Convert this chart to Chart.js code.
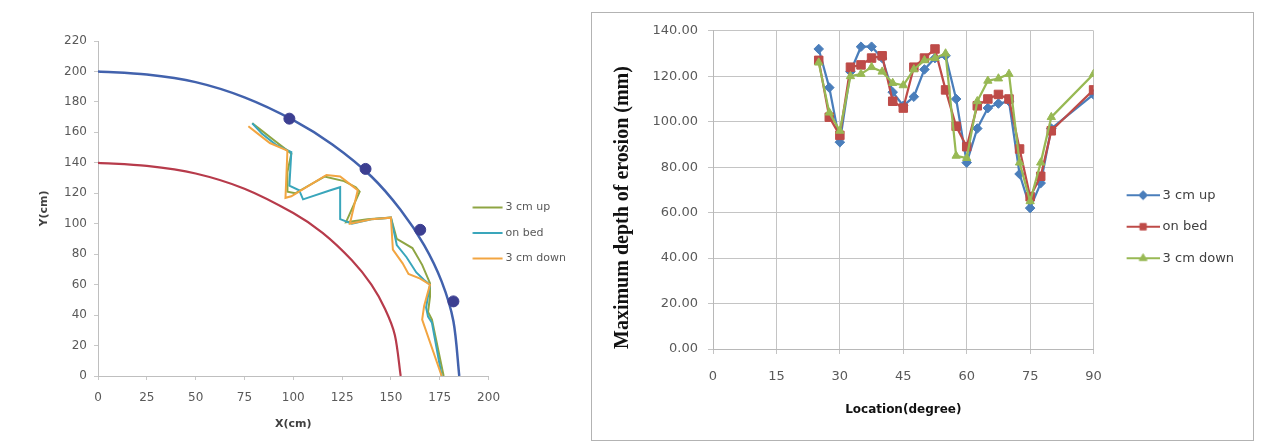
<!DOCTYPE html>
<html>
<head>
<meta charset="utf-8">
<script src="https://cdn.jsdelivr.net/npm/chart.js@4.4.0/dist/chart.umd.min.js"></script>
<style>
  body { margin: 0; background: #fff; width: 1264px; height: 444px; overflow: hidden; position: relative; }
  #left { position: absolute; left: 0; top: 0; }
  #frame { position: absolute; left: 591px; top: 12px; width: 663px; height: 429px; border: 1px solid #b3b3b3; box-sizing: border-box; }
  #right { position: absolute; left: 592px; top: 13px; }
</style>
</head>
<body>
<canvas id="left" width="619" height="444"></canvas>
<div id="frame"></div>
<canvas id="right" width="660" height="426"></canvas>
<script>
// ---- left chart: scour outline around the bend (cm) ----
const upPath = [[79,166],[84,161],[90,155],[96,149],[99,146],[97,134],[97,121],[101,120],[116,131],[126,128],[132,124],[134,121],[127,101],[138,103],[150,104],[153,90],[161,84],[166,73],[170,61],[170,52],[169,42],[171,37],[177,0]];
const bedPath = [[79,166],[84,159],[91,152],[99,147],[98,125],[103,122],[105,116],[119,122],[124,124],[124,103],[130,100],[140,103],[150,104],[153,86],[158,78],[163,68],[167,63],[170,60],[168,45],[169,39],[171,35],[176,0]];
const downPath = [[77,164],[81,160],[88,153],[97,148],[96,117],[99,118],[117,132],[124,131],[130,125],[133,122],[129,100],[140,103],[150,104],[151,83],[156,74],[159,67],[165,64],[170,60],[167,46],[166,37],[176,0]];
const outerWall = [[0,200],[25,198],[50,193],[75,183],[100,168],[120,152],[140,131],[155,109],[167,86],[176,62],[182,36],[185,0]];
const innerWall = [[0,140],[25,138],[50,133],[75,123],[100,107],[115,94],[130,76],[140,60],[147,44],[152,27],[155,0]];
const wallMarks = [[98,169],[137,136],[165,96],[182,49]];

// ---- right chart: maximum depth of erosion (mm) ----
const locations = [25,27.5,30,32.5,35,37.5,40,42.5,45,47.5,50,52.5,55,57.5,60,62.5,65,67.5,70,72.5,75,77.5,80,90];
const depthUp   = [132,115,91,122,133,133,128,113,107,111,123,128,129,110,82,97,106,108,109,77,62,73,97,112];
const depthBed  = [127,102,94,124,125,128,129,109,106,124,128,132,114,98,89,107,110,112,110,88,67,76,96,114];
const depthDown = [126,104,96,120,121,124,122,117,116,123,127,128,130,85,84,109,118,119,121,82,65,82,102,121];

Chart.defaults.font.family = 'DejaVu Sans';
Chart.defaults.animation = false;

const pts = arr => arr.map(p => ({x: p[0], y: p[1]}));

function legendIcon(color, shape, w, from, to) {
    const c = document.createElement('canvas');
    c.width = w;
    c.height = 14;
    const g = c.getContext('2d');
    g.strokeStyle = color;
    g.fillStyle = color;
    g.lineWidth = 2;
    g.beginPath();
    g.moveTo(from, 7);
    g.lineTo(to, 7);
    g.stroke();
    if (shape) {
        g.lineWidth = 1;
        Chart.helpers.drawPoint(g, {pointStyle: shape, radius: 4.5, borderWidth: 1}, (from + to) / 2, 7);
    }
    return c;
}

const tickFont = {family: 'DejaVu Sans', size: 12};
const byIndex = (a, b) => a.datasetIndex - b.datasetIndex;

// left chart
const leftColors = ['#8ea543', '#3aa6bb', '#f2a541'];
const leftIcons = leftColors.map(c => legendIcon(c, null, 36, 5.5, 35.5));

// the legend sits partly over the plot's right margin, as in the original
const legendNudge = {
    id: 'legendNudge',
    beforeDraw(chart) {
        const lg = chart.legend;
        const d = lg.left - (chart.chartArea.right - 33);
        lg.left -= d;
        lg.right -= d;
    }
};

new Chart(document.getElementById('left'), {
    type: 'scatter',
    data: {
        datasets: [
            {label: '3 cm up', data: pts(upPath), borderColor: leftColors[0], showLine: true, borderWidth: 2, pointRadius: 0, order: 3},
            {label: 'on bed', data: pts(bedPath), borderColor: leftColors[1], showLine: true, borderWidth: 2, pointRadius: 0, order: 2},
            {label: '3 cm down', data: pts(downPath), borderColor: leftColors[2], showLine: true, borderWidth: 2, pointRadius: 0, order: 1},
            {label: 'outer', data: pts(outerWall), borderColor: '#4262ad', showLine: true, borderWidth: 2.5, tension: 0.3, pointRadius: 0, order: 5},
            {label: 'inner', data: pts(innerWall), borderColor: '#b73b4b', showLine: true, borderWidth: 2.2, tension: 0.3, pointRadius: 0, order: 5},
            {label: 'marks', data: pts(wallMarks), backgroundColor: '#3c3f91', borderColor: '#3c3f91', pointRadius: 5.5, order: 4}
        ]
    },
    options: {
        responsive: false,
        layout: {padding: {left: 0, top: 41, right: 10, bottom: 19}},
        plugins: {
            tooltip: {enabled: false},
            legend: {
                position: 'right',
                labels: {
                    usePointStyle: true,
                    pointStyleWidth: 30,
                    padding: 14.5,
                    color: '#595959',
                    font: {family: 'DejaVu Sans', size: 11},
                    filter: item => item.datasetIndex < 3,
                    sort: byIndex,
                    generateLabels(chart) {
                        const items = Chart.defaults.plugins.legend.labels.generateLabels(chart);
                        items.forEach(it => { if (it.datasetIndex < 3) it.pointStyle = leftIcons[it.datasetIndex]; });
                        return items;
                    }
                }
            }
        },
        scales: {
            x: {
                type: 'linear', min: 0, max: 200,
                ticks: {stepSize: 25, color: '#595959', font: tickFont, padding: 11},
                grid: {drawOnChartArea: false, tickLength: 4, color: '#c8c8c8'},
                border: {color: '#bfbfbf'},
                title: {display: true, text: 'X(cm)', color: '#404040', font: {size: 11, weight: 'bold', lineHeight: 0.2}, padding: 0},
                afterFit: s => { s.height = 49; }
            },
            y: {
                min: 0, max: 220,
                ticks: {stepSize: 20, color: '#595959', font: tickFont, padding: 7},
                grid: {drawOnChartArea: false, tickLength: 4, color: '#c8c8c8'},
                border: {color: '#bfbfbf'},
                title: {display: true, text: 'Y(cm)', color: '#404040', font: {size: 11, weight: 'bold'}, padding: {top: 38, bottom: 0}},
                afterFit: s => { s.width = 98; }
            }
        }
    },
    plugins: [legendNudge]
});

// right chart
const seriesColors = ['#4a7ebb', '#be4b48', '#98b954'];
const seriesShapes = ['rectRot', 'rect', 'triangle'];
const rightIcons = seriesColors.map((c, i) => legendIcon(c, seriesShapes[i], 51, 18, 51));

function series(label, values, i) {
    return {
        label: label,
        data: locations.map((x, k) => ({x: x, y: values[k]})),
        borderColor: seriesColors[i],
        backgroundColor: seriesColors[i],
        borderWidth: 2.25,
        pointStyle: seriesShapes[i],
        pointRadius: i === 1 ? 6 : 4.8,
        pointBorderWidth: 1,
        order: 3 - i
    };
}

new Chart(document.getElementById('right'), {
    type: 'line',
    data: {
        datasets: [
            series('3 cm up', depthUp, 0),
            series('on bed', depthBed, 1),
            series('3 cm down', depthDown, 2)
        ]
    },
    options: {
        responsive: false,
        layout: {padding: {left: 0, top: 17, right: 8, bottom: 15.6}},
        plugins: {
            tooltip: {enabled: false},
            legend: {
                position: 'right',
                labels: {
                    usePointStyle: true,
                    pointStyleWidth: 44,
                    padding: 18.5,
                    color: '#404040',
                    font: {family: 'DejaVu Sans', size: 13},
                    sort: byIndex,
                    generateLabels(chart) {
                        const items = Chart.defaults.plugins.legend.labels.generateLabels(chart);
                        items.forEach(it => { it.pointStyle = rightIcons[it.datasetIndex]; });
                        return items;
                    }
                }
            }
        },
        scales: {
            x: {
                type: 'linear', min: 0, max: 90,
                ticks: {stepSize: 15, color: '#595959', font: {size: 13}, padding: 15},
                grid: {color: '#c4c4c4', tickLength: 5},
                border: {color: '#b8b8b8'},
                title: {display: true, text: 'Location(degree)', color: '#111', font: {size: 12, weight: 'bold'}, padding: {top: 0, bottom: 6}},
                afterFit: s => { s.height = 74.4; }
            },
            y: {
                min: 0, max: 140,
                ticks: {stepSize: 20, color: '#595959', font: {size: 13}, padding: 10, callback: v => v.toFixed(2)},
                grid: {color: '#c4c4c4', tickLength: 5},
                border: {color: '#b8b8b8'},
                title: {display: true, text: 'Maximum depth of erosion (mm)', align: 'start', color: '#111', font: {family: 'Liberation Serif', size: 20, weight: 'bold'}, padding: {top: 19, bottom: 0}},
                afterFit: s => { s.width = 121; }
            }
        }
    }
});
</script>
</body>
</html>
